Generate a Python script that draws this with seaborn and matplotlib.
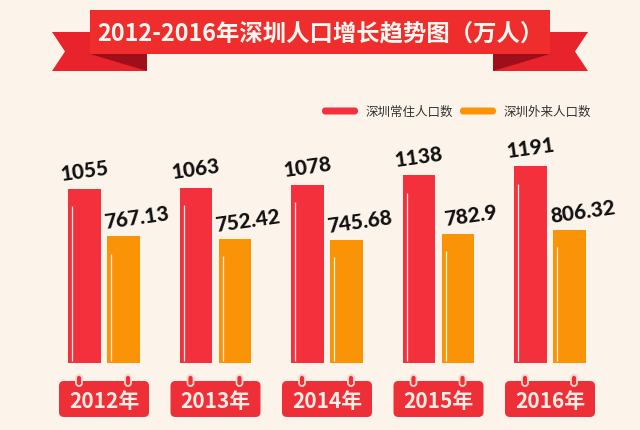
import numpy as np
import pandas as pd
import seaborn as sns
import matplotlib.pyplot as plt
from matplotlib.patches import Polygon, FancyBboxPatch

# 数据
years = ["2012年", "2013年", "2014年", "2015年", "2016年"]
changzhu = [1055, 1063, 1078, 1138, 1191]      # 深圳常住人口数
wailai = [767.13, 752.42, 745.68, 782.9, 806.32]  # 深圳外来人口数
series = ["深圳常住人口数", "深圳外来人口数"]
title = "2012-2016年深圳人口增长趋势图（万人）"

BG = "#fcf4ea"
RED = "#f5303d"
ORANGE = "#fa9306"

sns.set_theme(style="white")
plt.rcParams["font.family"] = ["Noto Sans CJK SC", "DejaVu Sans"]

df = pd.DataFrame({
    "year": years * 2,
    "value": changzhu + wailai,
    "series": [series[0]] * len(years) + [series[1]] * len(years),
})

fig = plt.figure(figsize=(6.4, 4.31), dpi=100)
fig.patch.set_facecolor(BG)

# 柱状图区域：y=0 在像素 364 处
W, H = 640, 431
ax = fig.add_axes([48.25 / W, (H - 364) / H, 557.5 / W, 214.5 / H])
ax.set_facecolor("none")
sns.barplot(data=df, x="year", y="value", hue="series", ax=ax,
            palette=[RED, ORANGE], width=0.70, gap=0.16, legend=False,
            saturation=1)
ax.set_xlim(-0.5, 4.5)
ax.set_ylim(0, 1300)
ax.axis("off")

# 柱内白色高光线 + 数值标签
for i, p in enumerate(ax.patches[:2 * len(years)]):
    p.set_linewidth(0)
    x0 = p.get_x()
    w = p.get_width()
    h = p.get_height()
    ax.vlines(x0 + w * 0.13, 12, h - 105, color="white", lw=0.9, alpha=0.9)
    is_red = i < len(years)
    lab = f"{h:g}"
    dx = 0 if is_red else 13
    ax.annotate(lab, xy=(x0 + w / 2, h), xytext=(dx, 19),
                textcoords="offset pixels", ha="center", va="center",
                rotation=8, fontsize=15, fontweight=900, color="#111111",
                family=["Lato", "DejaVu Sans"])

# 装饰层（像素坐标）
ov = fig.add_axes([0, 0, 1, 1])
ov.set_xlim(0, W)
ov.set_ylim(H, 0)
ov.axis("off")
ov.set_facecolor("none")

# 标题丝带
ov.add_patch(Polygon([(52, 33), (147, 33), (147, 72), (52, 72), (65, 52.5)],
                     closed=True, color="#e8232c", lw=0))
ov.add_patch(Polygon([(90, 55), (147, 55), (147, 72)], closed=True,
                     color="#9e0f1a", lw=0))
ov.add_patch(Polygon([(588, 33), (493, 33), (493, 72), (588, 72), (575, 52.5)],
                     closed=True, color="#e8232c", lw=0))
ov.add_patch(Polygon([(550, 55), (493, 55), (493, 72)], closed=True,
                     color="#9e0f1a", lw=0))
ov.add_patch(Polygon([(90, 11), (550, 11), (550, 55), (90, 55)], closed=True,
                     color="#ef2d2d", lw=0))
ov.text(320, 33, title, ha="center", va="center", color="#fff8f2",
        fontsize=16.8, fontweight=900)

# 图例
leg_x = [322, 460]
for lx, name, c in zip(leg_x, series, [RED, ORANGE]):
    ov.add_patch(FancyBboxPatch((lx, 108.5), 36, 7,
                                boxstyle="round,pad=0,rounding_size=3.5",
                                color=c, lw=0))
    ov.text(lx + 44, 112, name, ha="left", va="center", fontsize=9,
            color="#333333")

# 年份标签（日历样式）
centers = ax.transData.transform(np.column_stack([np.arange(len(years)),
                                                  np.zeros(len(years))]))[:, 0]
for cx, yl in zip(centers, years):
    ov.add_patch(FancyBboxPatch((cx - 45, 382), 90, 36,
                                boxstyle="round,pad=0,rounding_size=5",
                                color="#ee2f37", lw=0))
    for rx in (cx - 25, cx + 24):
        ov.add_patch(FancyBboxPatch((rx - 3, 376), 6, 11,
                                    boxstyle="round,pad=0,rounding_size=3",
                                    facecolor="#ee2f37", edgecolor="#f9d7cf",
                                    lw=1.3))
    ov.text(cx, 402, yl, ha="center", va="center", color="#fdeee6",
            fontsize=15, fontweight="bold")

fig.savefig("out.png", dpi=100, facecolor=BG)
